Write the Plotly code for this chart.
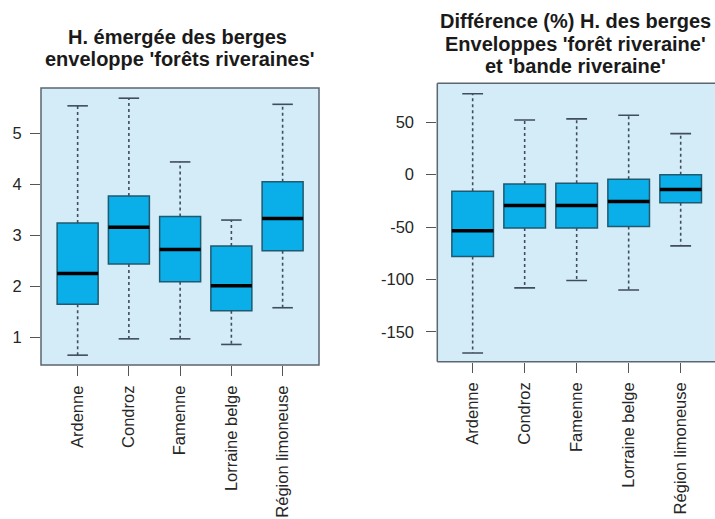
import plotly.graph_objects as go

# Regions (categories)
regions = ["Ardenne", "Condroz", "Famenne", "Lorraine belge", "Région limoneuse"]

# Left panel: emerged bank height, 'forêts riveraines' envelope
h_low = [0.65, 0.97, 0.97, 0.86, 1.58]
h_q1 = [1.65, 2.44, 2.09, 1.52, 2.70]
h_med = [2.25, 3.16, 2.72, 2.01, 3.33]
h_q3 = [3.24, 3.77, 3.37, 2.79, 4.05]
h_high = [5.54, 5.69, 4.44, 3.30, 5.57]

# Right panel: % difference between the two envelopes
d_low = [-170, -108, -101, -110, -68]
d_q1 = [-78, -51, -51, -49.5, -27]
d_med = [-53.5, -29.5, -29.5, -25.7, -14.3]
d_q3 = [-16, -9, -8.3, -4.4, -0.3]
d_high = [77, 52, 53, 56.5, 39]

left_ticks = [1, 2, 3, 4, 5]
right_ticks = [-150, -100, -50, 0, 50]

BOX_FILL = "#0aaee8"
BOX_EDGE = "#1f5a70"
WHISKER = "#3f4d5c"
BG = "#d4ecf8"
FONT = "Liberation Sans, Arial, sans-serif"
W, H = 715, 519

xs = [1, 2, 3, 4, 5]
fig = go.Figure()


def add_panel(xa, ya, low, q1, med, q3, high):
    fig.add_trace(go.Box(
        x=xs, q1=q1, median=med, q3=q3, lowerfence=q1, upperfence=q3,
        width=0.8, whiskerwidth=0, fillcolor=BOX_FILL,
        line=dict(color=BOX_EDGE, width=1.5), boxpoints=False,
        hoverinfo="skip", showlegend=False, xaxis=xa, yaxis=ya))
    wx, wy, cx, cy, mx, my = [], [], [], [], [], []
    for i, x in enumerate(xs):
        wx += [x, x, None, x, x, None]
        wy += [q3[i], high[i], None, q1[i], low[i], None]
        for v in (low[i], high[i]):
            cx += [x - 0.2, x + 0.2, None]
            cy += [v, v, None]
        mx += [x - 0.4, x + 0.4, None]
        my += [med[i], med[i], None]
    fig.add_trace(go.Scatter(x=wx, y=wy, mode="lines", showlegend=False,
                             line=dict(color=WHISKER, width=1.6, dash="3px,3px"),
                             hoverinfo="skip", xaxis=xa, yaxis=ya))
    fig.add_trace(go.Scatter(x=cx, y=cy, mode="lines", showlegend=False,
                             line=dict(color=WHISKER, width=1.6),
                             hoverinfo="skip", xaxis=xa, yaxis=ya))
    fig.add_trace(go.Scatter(x=mx, y=my, mode="lines", showlegend=False,
                             line=dict(color="black", width=3.5),
                             hoverinfo="skip", xaxis=xa, yaxis=ya))


add_panel("x", "y", h_low, h_q1, h_med, h_q3, h_high)
add_panel("x2", "y2", d_low, d_q1, d_med, d_q3, d_high)


def px(v):
    return v / W


def py(v):
    return 1 - v / H


tickfont = dict(family=FONT, size=16.5, color="#262626")
xcommon = dict(tickvals=xs, ticktext=regions, tickangle=-90, ticks="outside",
               ticklen=10, tickcolor="#555", tickwidth=1, showgrid=False,
               zeroline=False, showline=False, tickfont=tickfont,
               ticklabelstandoff=3, automargin=False)
ycommon = dict(ticks="outside", ticklen=10, tickcolor="#555", tickwidth=1,
               showgrid=False, zeroline=False, showline=False,
               tickfont=tickfont, automargin=False)

fig.update_layout(
    width=W, height=H, margin=dict(l=0, r=0, t=0, b=0),
    paper_bgcolor="white", plot_bgcolor=BG,
    xaxis=dict(domain=[px(41), px(319)], range=[0.285, 5.71], anchor="y", **xcommon),
    yaxis=dict(domain=[py(365), py(88)], range=[0.457, 5.89], anchor="x",
               tickvals=left_ticks, ticktext=[str(v) for v in left_ticks],
               ticklabelstandoff=5, **ycommon),
    xaxis2=dict(domain=[px(437.3), 1.0], range=[0.32, 5.66], anchor="y2", **xcommon),
    yaxis2=dict(domain=[py(361.7), py(83.3)], range=[-178.3, 86.9], anchor="x2",
                tickvals=right_ticks, ticktext=[str(v) for v in right_ticks],
                ticklabelstandoff=9, **ycommon),
)

# Panel borders (the right panel runs off the right edge)
border = dict(color="#5a6670", width=1.5)
fig.add_shape(type="rect", xref="x domain", yref="y domain", x0=0, x1=1, y0=0, y1=1,
              line=border, layer="above")
for (x0, y0, x1, y1) in [(0, 0, 0, 1), (0, 1, 1.01, 1), (0, 0, 1.01, 0)]:
    fig.add_shape(type="line", xref="x2 domain", yref="y2 domain",
                  x0=x0, y0=y0, x1=x1, y1=y1, line=border, layer="above")

titles = [
    ("H. émergée des berges", 177, 37.5),
    ("enveloppe 'forêts riveraines'", 180, 59),
    ("Différence (%) H. des berges", 575, 21),
    ("Enveloppes 'forêt riveraine'", 575, 44),
    ("et 'bande riveraine'", 575, 66),
]
for text, x, y in titles:
    fig.add_annotation(text="<b>" + text + "</b>", x=px(x), y=py(y),
                       xref="paper", yref="paper", xanchor="center", yanchor="middle",
                       showarrow=False, font=dict(family=FONT, size=20, color="#1a1a1a"))

fig.write_html("out.html")
